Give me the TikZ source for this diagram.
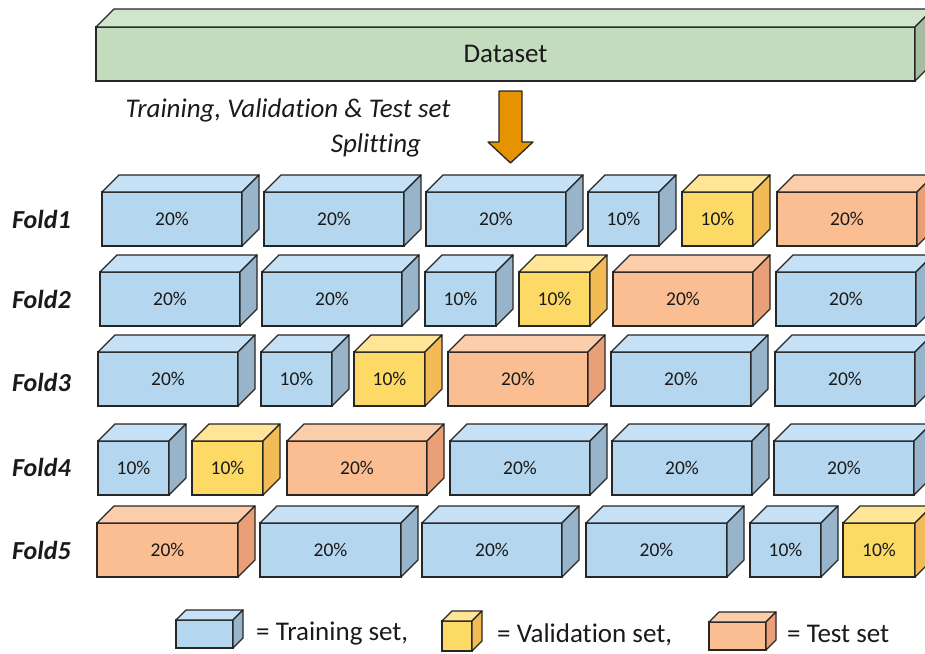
\documentclass[tikz,border=0pt]{standalone}
\usepackage{fontspec}
\setmainfont{Carlito}[Ligatures=CommonOff]
\usetikzlibrary{positioning}

\definecolor{trainfront}{HTML}{B4D6EE}
\definecolor{traintop}{HTML}{C6E0F5}
\definecolor{trainside}{HTML}{98B4CB}
\definecolor{valfront}{HTML}{FDD966}
\definecolor{valtop}{HTML}{FEE597}
\definecolor{valside}{HTML}{F2BB55}
\definecolor{testfront}{HTML}{FBBE93}
\definecolor{testtop}{HTML}{FCCDAA}
\definecolor{testside}{HTML}{E99F78}
\definecolor{datafront}{HTML}{C4DCBE}
\definecolor{datatop}{HTML}{D1E5CC}
\definecolor{dataside}{HTML}{A6BCA0}
\definecolor{arroworange}{HTML}{E59300}
\definecolor{boxline}{HTML}{262626}
\definecolor{ink}{HTML}{1A1A1A}

% front face as a node, top and side faces drawn from its corners
\def\boxdepth{17pt}
\newcommand{\foldbox}[6][]{%
  \node[block, fill=#5front, minimum width=#4pt, #1] (#2) at (#3) {#6};
  \draw[facet, fill=#5top] (#2.north west) -- ++(\boxdepth,\boxdepth)
    -- ([shift={(\boxdepth,\boxdepth)}]#2.north east) -- (#2.north east) -- cycle;
  \draw[facet, fill=#5side] (#2.north east) -- ++(\boxdepth,\boxdepth)
    -- ([shift={(\boxdepth,\boxdepth)}]#2.south east) -- (#2.south east) -- cycle;
}

\begin{document}
\begin{tikzpicture}[x=1pt, y=-1pt, every node/.style={text=ink},
    facet/.style={draw=boxline, line width=1.3pt, line join=round},
    block/.style={draw=boxline, line width=1.3pt, anchor=north west, inner sep=0pt,
                  outer sep=0pt, minimum height=54pt, font=\fontsize{19.5}{22}\selectfont},
    caption/.style={inner sep=0pt, font=\fontsize{27}{32}\selectfont\itshape},
    foldlabel/.style={anchor=west, inner sep=0pt, font=\fontsize{26}{30}\selectfont\bfseries\itshape},
    legendtext/.style={inner sep=0pt, text height=18pt, text depth=6pt, font=\fontsize{27}{32}\selectfont}]

\useasboundingbox (0,0) rectangle (925,653);

\def\boxdepth{18pt}
\foldbox[font=\fontsize{27}{32}\selectfont]{dataset}{96,27}{819}{data}{Dataset}

\node[caption] (split1) at (288,110) {Training, Validation \& Test set};
\node[caption] (split2) at (376,145) {Splitting};

\draw[facet, fill=arroworange] (499,91) -- (522,91) -- (522,142) -- (533,142)
  -- (510.5,163) -- (488,142) -- (499,142) -- cycle;

\def\boxdepth{17pt}
\foreach \xx/\ww/\kind/\pc [count=\i] in {102/140/train/20, 264/140/train/20, 426/140/train/20,
    588/71/train/10, 682/71/val/10, 777/140/test/20}
  \foldbox{f1-\i}{\xx,192}{\ww}{\kind}{\pc\%};
\foreach \xx/\ww/\kind/\pc [count=\i] in {100/140/train/20, 262/140/train/20, 425/71/train/10,
    519/71/val/10, 613/140/test/20, 776/140/train/20}
  \foldbox{f2-\i}{\xx,272}{\ww}{\kind}{\pc\%};
\foreach \xx/\ww/\kind/\pc [count=\i] in {98/140/train/20, 261/71/train/10, 354/71/val/10,
    448/140/test/20, 611/140/train/20, 775/140/train/20}
  \foldbox{f3-\i}{\xx,352}{\ww}{\kind}{\pc\%};
\foreach \xx/\ww/\kind/\pc [count=\i] in {98/71/train/10, 192/71/val/10, 287/140/test/20,
    450/140/train/20, 612/140/train/20, 774/140/train/20}
  \foldbox{f4-\i}{\xx,441}{\ww}{\kind}{\pc\%};
\foreach \xx/\ww/\kind/\pc [count=\i] in {97/141/test/20, 260/141/train/20, 422/140/train/20,
    586/141/train/20, 750/71/train/10, 843/72/val/10}
  \foldbox{f5-\i}{\xx,523}{\ww}{\kind}{\pc\%};

\node[foldlabel] (fold1) at (12,219) {Fold1};
\node[foldlabel] (fold2) at (12,299) {Fold2};
\node[foldlabel] (fold3) at (12,382) {Fold3};
\node[foldlabel] (fold4) at (12,467) {Fold4};
\node[foldlabel] (fold5) at (12,550) {Fold5};

% legend
\def\boxdepth{10pt}
\foldbox[minimum height=28pt]{lt}{176,620}{57}{train}{}
\node[legendtext, right=23pt of lt] (lttext) {= Training set,};
\foldbox[minimum height=30pt]{lv}{442,621}{30}{val}{}
\node[legendtext, right=25pt of lv] (lvtext) {= Validation set,};
\foldbox[minimum height=28pt]{ls}{709,622}{57}{test}{}
\node[legendtext, right=21pt of ls] (lstext) {= Test set};
\end{tikzpicture}
\end{document}
